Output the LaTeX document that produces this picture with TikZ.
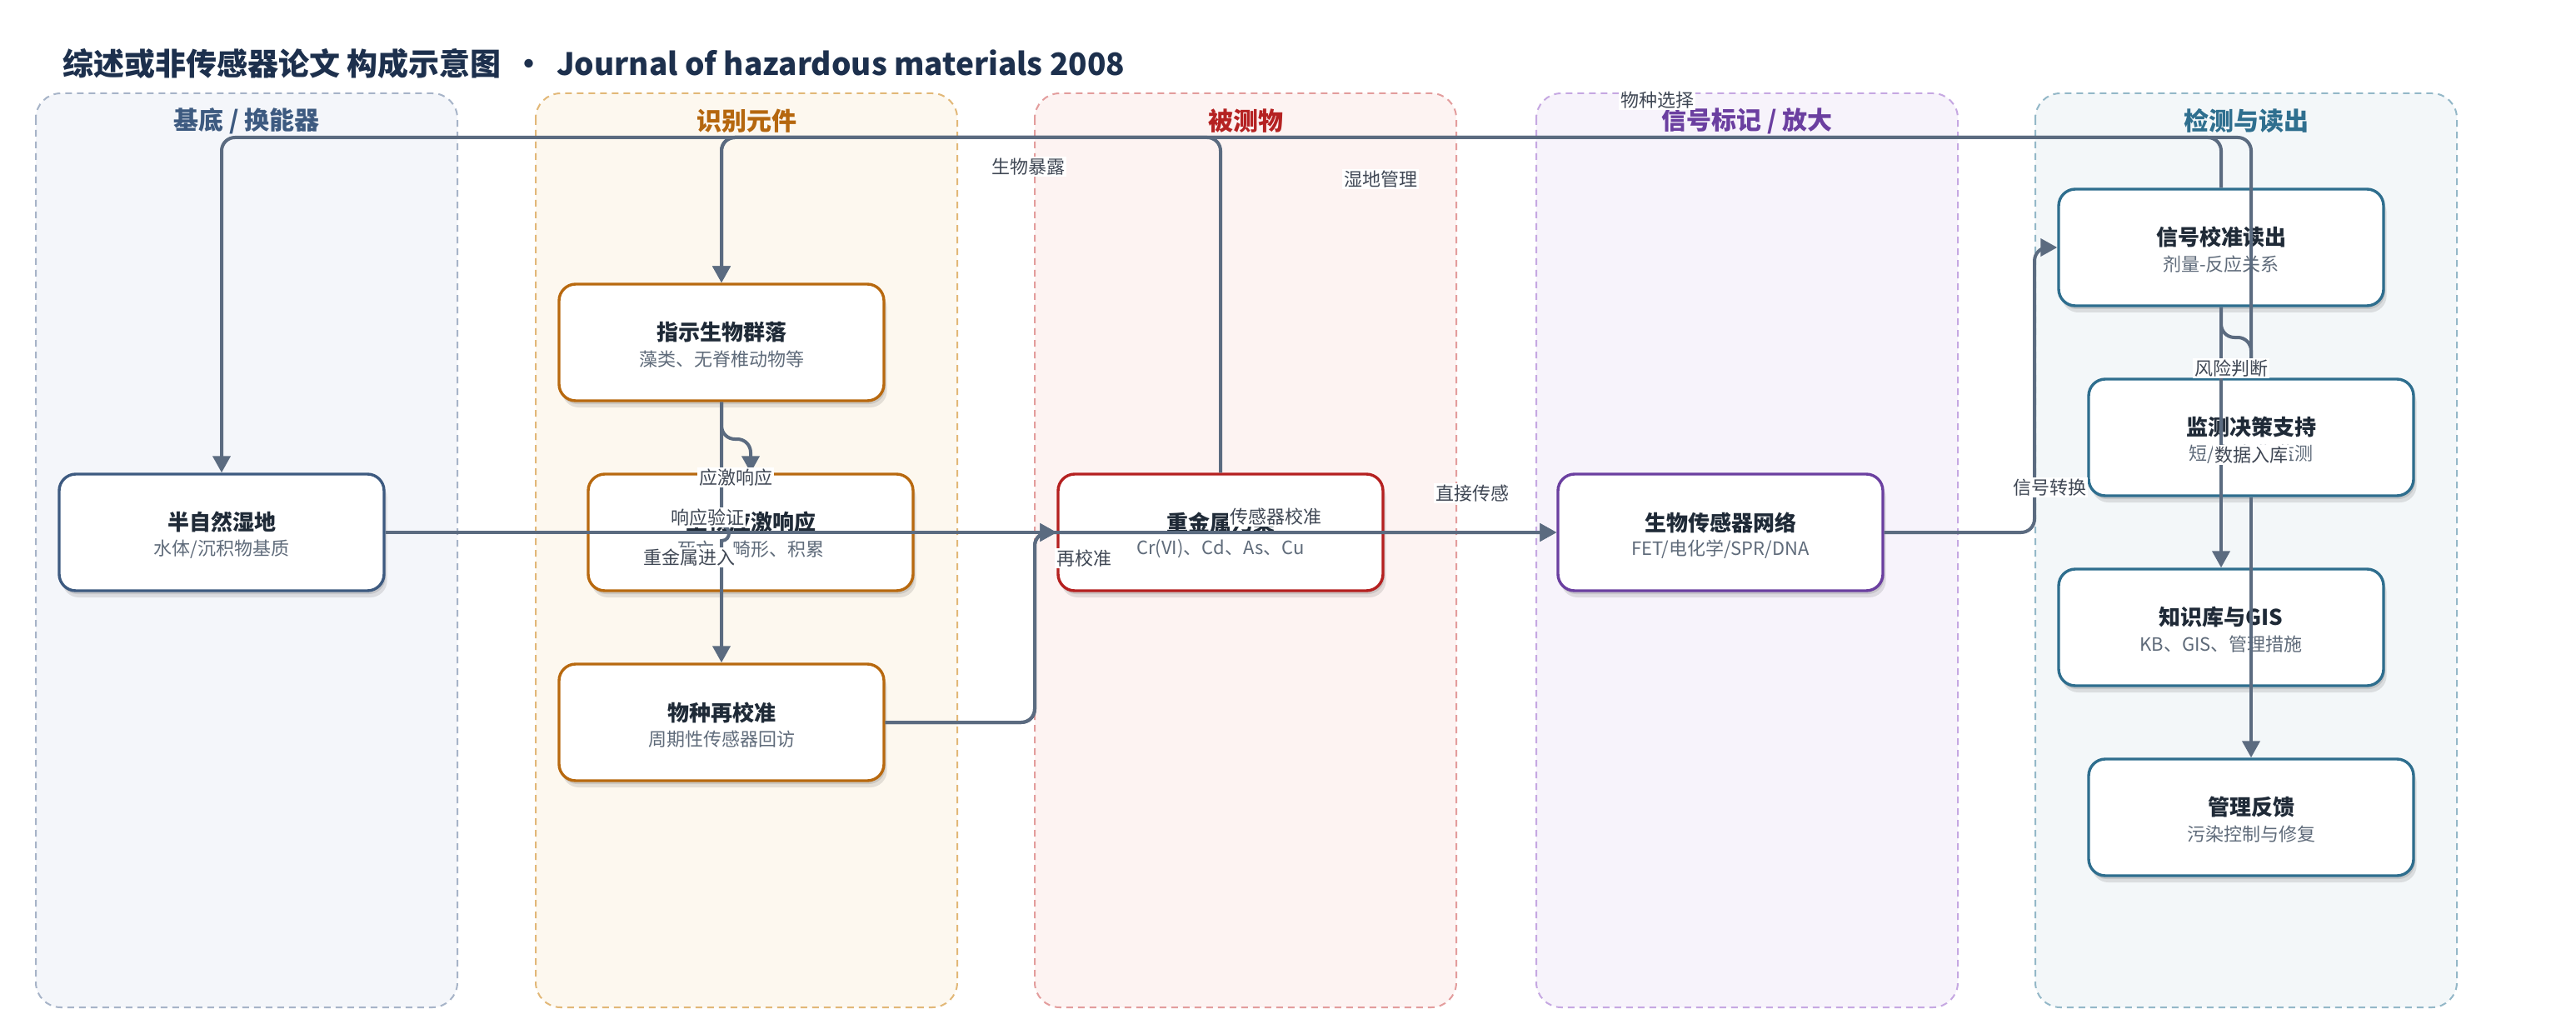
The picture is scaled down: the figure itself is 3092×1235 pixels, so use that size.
\documentclass[tikz,border=0pt]{standalone}
\usepackage{fontspec}
\setmainfont{Noto Sans CJK SC}
\usetikzlibrary{arrows.meta,shadows,calc}

\definecolor{titlec}{HTML}{1D304D}
\definecolor{edgec}{HTML}{5B6B80}
\definecolor{subc}{HTML}{5F6B7A}
\definecolor{ttlc}{HTML}{1F2A37}
\definecolor{lblc}{HTML}{3F4754}
% lanes
\definecolor{laneAf}{HTML}{F4F6FA}\definecolor{laneAd}{HTML}{A7B4C8}\definecolor{laneAt}{HTML}{3D5A80}
\definecolor{laneBf}{HTML}{FDF8EF}\definecolor{laneBd}{HTML}{E2B878}\definecolor{laneBt}{HTML}{B5670E}
\definecolor{laneCf}{HTML}{FDF3F2}\definecolor{laneCd}{HTML}{E39D9D}\definecolor{laneCt}{HTML}{B52222}
\definecolor{laneDf}{HTML}{F7F3FB}\definecolor{laneDd}{HTML}{C6A8E2}\definecolor{laneDt}{HTML}{6B3FA0}
\definecolor{laneEf}{HTML}{F3F7F9}\definecolor{laneEd}{HTML}{94B8C8}\definecolor{laneEt}{HTML}{2F6F8F}
% node borders
\definecolor{bdA}{HTML}{3D5A80}
\definecolor{bdB}{HTML}{B8690F}
\definecolor{bdE}{HTML}{B52020}
\definecolor{bdF}{HTML}{6B3FA0}
\definecolor{bdG}{HTML}{2E6E8E}

\tikzset{
  lanebox/.style={draw=#1, dashed, dash pattern=on 4pt off 3pt, line width=1pt, rounded corners=15pt},
  lanetitle/.style={font=\fontsize{15pt}{17pt}\selectfont\bfseries, text=#1, inner sep=0pt},
  box/.style={draw=#1, fill=white, line width=1.7pt, rounded corners=10pt,
    minimum width=195pt, minimum height=70pt, inner sep=0pt,
    drop shadow={shadow xshift=1.8pt, shadow yshift=-4pt, opacity=0.10, fill=black},
    drop shadow={shadow xshift=0.9pt, shadow yshift=-2pt, opacity=0.10, fill=black}},
  ttl/.style={font=\fontsize{13pt}{15pt}\selectfont\bfseries, text=ttlc, inner sep=0pt},
  sub/.style={font=\fontsize{11pt}{13pt}\selectfont, text=subc, inner sep=0pt},
  edge/.style={draw=edgec, line width=2pt, rounded corners=8pt, -{Triangle[length=10pt,width=10.5pt]}},
  elabel/.style={fill=white, inner sep=1pt, font=\fontsize{11pt}{13pt}\selectfont, text=lblc}
}

\begin{document}
\begin{tikzpicture}[x=0.5pt,y=-0.5pt]
\useasboundingbox (0,0) rectangle (3092,1235);
\fill[white] (0,0) rectangle (3092,1235);

% ---------- lanes ----------
\filldraw[lanebox=laneAd, fill=laneAf] (43,112) rectangle (549,1209);
\filldraw[lanebox=laneBd, fill=laneBf] (643,112) rectangle (1149,1209);
\filldraw[lanebox=laneCd, fill=laneCf] (1242,112) rectangle (1748,1209);
\filldraw[lanebox=laneDd, fill=laneDf] (1844,112) rectangle (2350,1209);
\filldraw[lanebox=laneEd, fill=laneEf] (2443,112) rectangle (2949,1209);

\node[lanetitle=laneAt] (ltA) at (296,145) {基底 / 换能器};
\node[lanetitle=laneBt] (ltB) at (896,145) {识别元件};
\node[lanetitle=laneCt] (ltC) at (1495,145) {被测物};
\node[lanetitle=laneDt] (ltD) at (2097,145) {信号标记 / 放大};
\node[lanetitle=laneEt] (ltE) at (2696,145) {检测与读出};

% ---------- title ----------
\node[anchor=west, inner sep=0pt, text=titlec, font=\fontsize{18.5pt}{21pt}\selectfont\bfseries] (title) at (75,76)
  {综述或非传感器论文 构成示意图 \,•\, Journal of hazardous materials 2008};

% ---------- nodes ----------
\node[box=bdA] (A) at (266,639) {};
\node[box=bdB] (B) at (866,411) {};
\node[box=bdB] (C) at (901,639) {};
\node[box=bdB] (D) at (866,867) {};
\node[box=bdE] (E) at (1465,639) {};
\node[box=bdF] (F) at (2065,639) {};
\node[box=bdG] (G) at (2666,297) {};
\node[box=bdG] (H) at (2702,525) {};
\node[box=bdG] (I) at (2666,753) {};
\node[box=bdG] (J) at (2702,981) {};

\node[ttl] (At) at ([yshift=6pt]A.center) {半自然湿地};
\node[sub] (As) at ([yshift=-10pt]A.center) {水体/沉积物基质};
\node[ttl] (Bt) at ([yshift=6pt]B.center) {指示生物群落};
\node[sub] (Bs) at ([yshift=-10pt]B.center) {藻类、无脊椎动物等};
\node[ttl] (Ct) at ([yshift=6pt]C.center) {生物应激响应};
\node[sub] (Cs) at ([yshift=-10pt]C.center) {死亡、畸形、积累};
\node[ttl] (Dt) at ([yshift=6pt]D.center) {物种再校准};
\node[sub] (Ds) at ([yshift=-10pt]D.center) {周期性传感器回访};
\node[ttl] (Et) at ([yshift=6pt]E.center) {重金属污染};
\node[sub] (Es) at ([yshift=-10pt]E.center) {Cr(VI)、Cd、As、Cu};
\node[ttl] (Ft) at ([yshift=6pt]F.center) {生物传感器网络};
\node[sub] (Fs) at ([yshift=-10pt]F.center) {FET/电化学/SPR/DNA};
\node[ttl] (Gt) at ([yshift=6pt]G.center) {信号校准读出};
\node[sub] (Gs) at ([yshift=-10pt]G.center) {剂量-反应关系};
\node[ttl] (Ht) at ([yshift=6pt]H.center) {监测决策支持};
\node[sub] (Hs) at ([yshift=-10pt]H.center) {短/中/长期监测};
\node[ttl] (It) at ([yshift=6pt]I.center) {知识库与GIS};
\node[sub] (Is) at ([yshift=-10pt]I.center) {KB、GIS、管理措施};
\node[ttl] (Jt) at ([yshift=6pt]J.center) {管理反馈};
\node[sub] (Js) at ([yshift=-10pt]J.center) {污染控制与修复};

% ---------- routing helpers ----------
\coordinate (top) at (0,165);
\coordinate (jbc) at (0,527);
\coordinate (xde) at (1242,0);
\coordinate (xfg) at (2442,0);
\coordinate (jgh) at (0,405);
\coordinate (hopa) at (866,631);
\coordinate (hopb) at (866,649);
\coordinate (hopc1) at (878,631);
\coordinate (hopc2) at (878,649);

% ---------- edges ----------
\draw[edge] (A.east) -- (E.west);
\draw[edge] (E.north) -- (E.north |- top) -- (B.north |- top) -- (B.north);
\draw[edge] (H.north) -- (H.north |- top) -- (A.north |- top) -- (A.north);
\draw[edge] (G.north) -- (G.north |- top) -- (B.north |- top) -- (B.north);
\draw[edge] (B.south) -- (B.south |- jbc) -- (C.north |- jbc) -- (C.north);
\draw[edge, rounded corners=0pt] (B.south) -- (hopa) .. controls (hopc1) and (hopc2) .. (hopb) -- (D.north);
\draw[edge] (D.east) -- (D.east -| xde) -- (E.west -| xde) -- (E.west);
\draw[edge] (D.east) -- (D.east -| xde) -- (E.west -| xde) -- (F.west);
\draw[edge] (E.east) -- (F.west);
\draw[edge] (F.east) -- (F.east -| xfg) -- (G.west -| xfg) -- (G.west);
\draw[edge] (G.south) -- (G.south |- jgh) -- (H.north |- jgh) -- (H.north);
\draw[edge] (G.south) -- (I.north);
\draw[edge] (H.south) -- (J.north);

% ---------- edge labels ----------
\node[elabel] (l1) at (827,669) {重金属进入};
\node[elabel] (l2) at (1234,200) {生物暴露};
\node[elabel] (l3) at (883,573) {应激响应};
\node[elabel] (l4) at (849,621) {响应验证};
\node[elabel] (l5) at (1301,670) {再校准};
\node[elabel] (l6) at (1531,620) {传感器校准};
\node[elabel] (l7) at (1767,592) {直接传感};
\node[elabel] (l8) at (2460,585) {信号转换};
\node[elabel] (l9) at (2678,442) {风险判断};
\node[elabel] (l10) at (2702,546) {数据入库};
\node[elabel] (l11) at (1657,215) {湿地管理};
\node[elabel] (l12) at (1989,120) {物种选择};
\end{tikzpicture}
\end{document}
